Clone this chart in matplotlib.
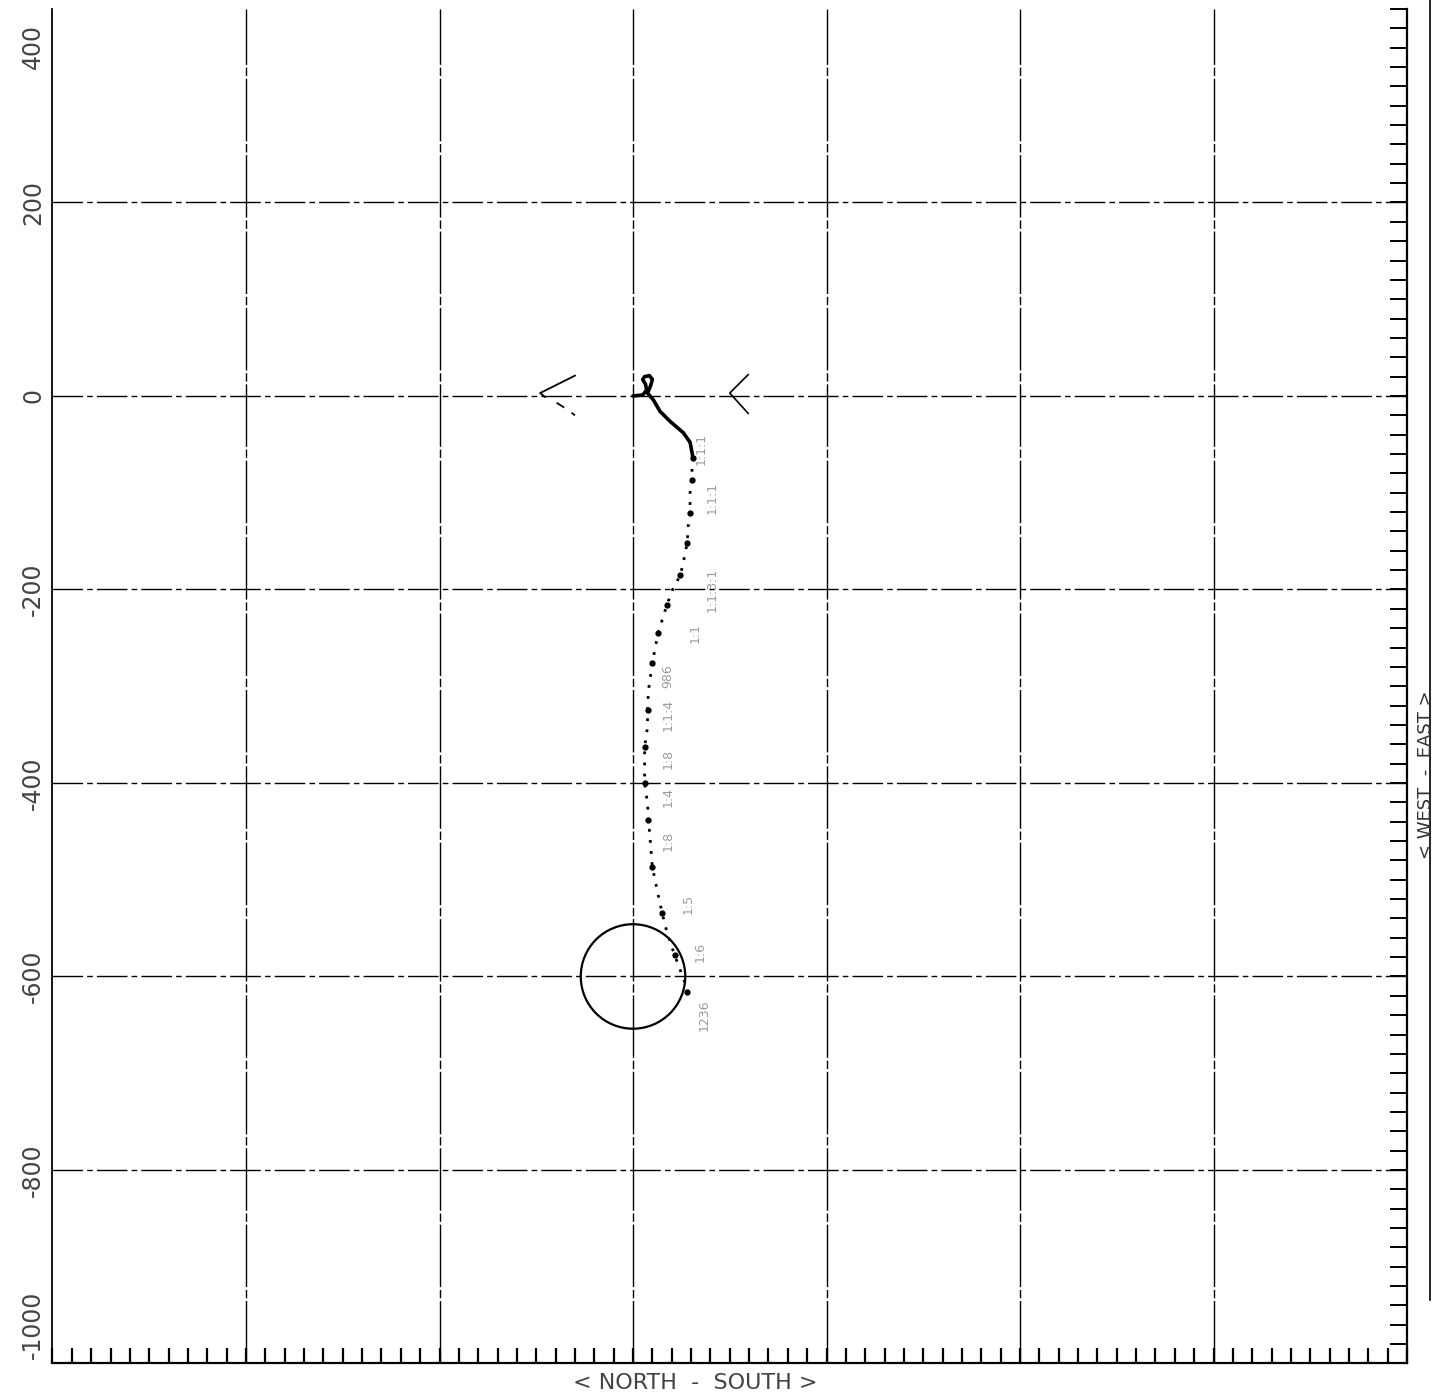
import numpy as np
import matplotlib
matplotlib.use("Agg")
import matplotlib.pyplot as plt
from matplotlib.patches import Circle
from matplotlib.lines import Line2D

# ---------------------------------------------
# track data
# ---------------------------------------------

# solid part of the track, starting at the origin with the small loop
solid_x = [0, 10, 14, 13, 10, 12, 17, 20, 18, 15, 21, 28, 38, 52, 59, 62]
solid_y = [0, 1, 6, 12, 17, 20, 21, 17, 10, 3, -4, -16, -26, -38, -48, -64]

# dotted part of the track
dot_x = [62, 61, 61, 59, 59, 57, 56, 52, 49, 41, 35, 30, 26, 23, 20, 16,
         15, 15, 12, 12, 12, 15, 16, 18, 20, 25, 30, 35, 43, 54, 56]
dot_y = [-64, -73, -87, -100, -121, -135, -152, -172, -185, -200, -216,
         -232, -245, -260, -276, -304, -325, -342, -363, -379, -400, -421,
         -438, -462, -487, -511, -534, -554, -578, -607, -616]

# small labels written along the track
track_labels = ["1:1:1", "1:1:1", "1:1:3:1", "1:1", "986", "1:1:4", "1:8",
                "1:4", "1:8", "1:5", "1:6", "1236"]
label_x = [70, 82, 82, 64, 36, 36, 36, 36, 36, 57, 69, 74]
label_y = [-55, -105, -200, -245, -290, -330, -375, -415, -460, -525, -575, -640]

# target circle
circle_center = (0, -600)
circle_radius = 54

# the two open arrow heads on the zero line
arrow_left_x = [-60, -96, -91]
arrow_left_y = [21, 3, -1]
arrow_left_tail_x = [-79, -68, -60]
arrow_left_tail_y = [-7, -14, -20]
arrow_right_x = [119, 100, 119]
arrow_right_y = [22, 3, -18]

x_min, x_max = -600, 800
y_min, y_max = -1000, 400
y_ticks = [400, 200, 0, -200, -400, -600, -800, -1000]
y_tick_pos = [361, 200, 0, -200, -400, -600, -800, -960]
grid_x = [-400, -200, 0, 200, 400, 600]
grid_y = [200, 0, -200, -400, -600, -800]

# ---------------------------------------------

fig = plt.figure(figsize=(14.34, 13.98), dpi=100)
ax = fig.add_axes([0.0366, 0.0247, 0.9446, 0.9689])
ax.set_xlim(x_min, x_max)
ax.set_ylim(y_min, y_max)

# grid
for gx in grid_x:
    ax.axvline(gx, color="black", lw=1.0, ls=(0, (45, 2, 6, 2)), zorder=1)
for gy in grid_y:
    ax.axhline(gy, color="black", lw=1.0, ls=(0, (22, 3, 4, 3)), zorder=1)

# spines and ticks
ax.spines["top"].set_visible(False)
ax.spines["left"].set_linewidth(1.3)
ax.spines["bottom"].set_linewidth(1.6)
ax.spines["right"].set_linewidth(1.6)
ax.set_xticks(np.arange(x_min, x_max + 1, 20))
ax.set_yticks(np.arange(y_min, y_max + 1, 20))
ax.tick_params(axis="x", direction="in", length=11, width=1.6,
               labelbottom=False, top=False)
ax.tick_params(axis="y", direction="in", length=12, width=1.4,
               left=False, right=True, labelleft=False, labelright=False)

# y labels, rotated like the plotter did
for val, pos in zip(y_ticks, y_tick_pos):
    ax.text(-620, pos, str(val), rotation=90, ha="center", va="center",
            fontsize=17, color="#444444", clip_on=False)

# track
ax.plot(solid_x, solid_y, color="black", lw=2.6, solid_capstyle="round",
        solid_joinstyle="round", zorder=4)
ax.plot(dot_x, dot_y, color="black", lw=2.0, ls=(0, (1, 3)), zorder=4)
ax.plot(dot_x[::2], dot_y[::2], "o", color="black", ms=3.5, zorder=4)

for txt, lx, ly in zip(track_labels, label_x, label_y):
    ax.text(lx, ly, txt, rotation=90, ha="center", va="center",
            fontsize=9, color="#9a9a9a", zorder=3)

# circle
ax.add_patch(Circle(circle_center, circle_radius, fill=False,
                    color="black", lw=1.6, zorder=4))

# arrow heads
ax.plot(arrow_left_x, arrow_left_y, color="black", lw=1.3)
ax.plot(arrow_left_tail_x, arrow_left_tail_y, color="black", lw=1.3,
        ls=(0, (5, 5)))
ax.plot(arrow_right_x, arrow_right_y, color="black", lw=1.2)

# axis titles
fig.text(0.4847, 0.0107, "< NORTH  -  SOUTH >", ha="center", va="center",
         fontsize=16, color="#444444")
fig.text(0.9945, 0.446, "< WEST  -  EAST >", ha="center", va="center",
         rotation=90, fontsize=13, color="#333333")

# frame line at the far right edge
fig.add_artist(Line2D([0.9972, 0.9972], [0.07, 1.0], color="black", lw=1.2))

fig.savefig("out.png", dpi=100)
